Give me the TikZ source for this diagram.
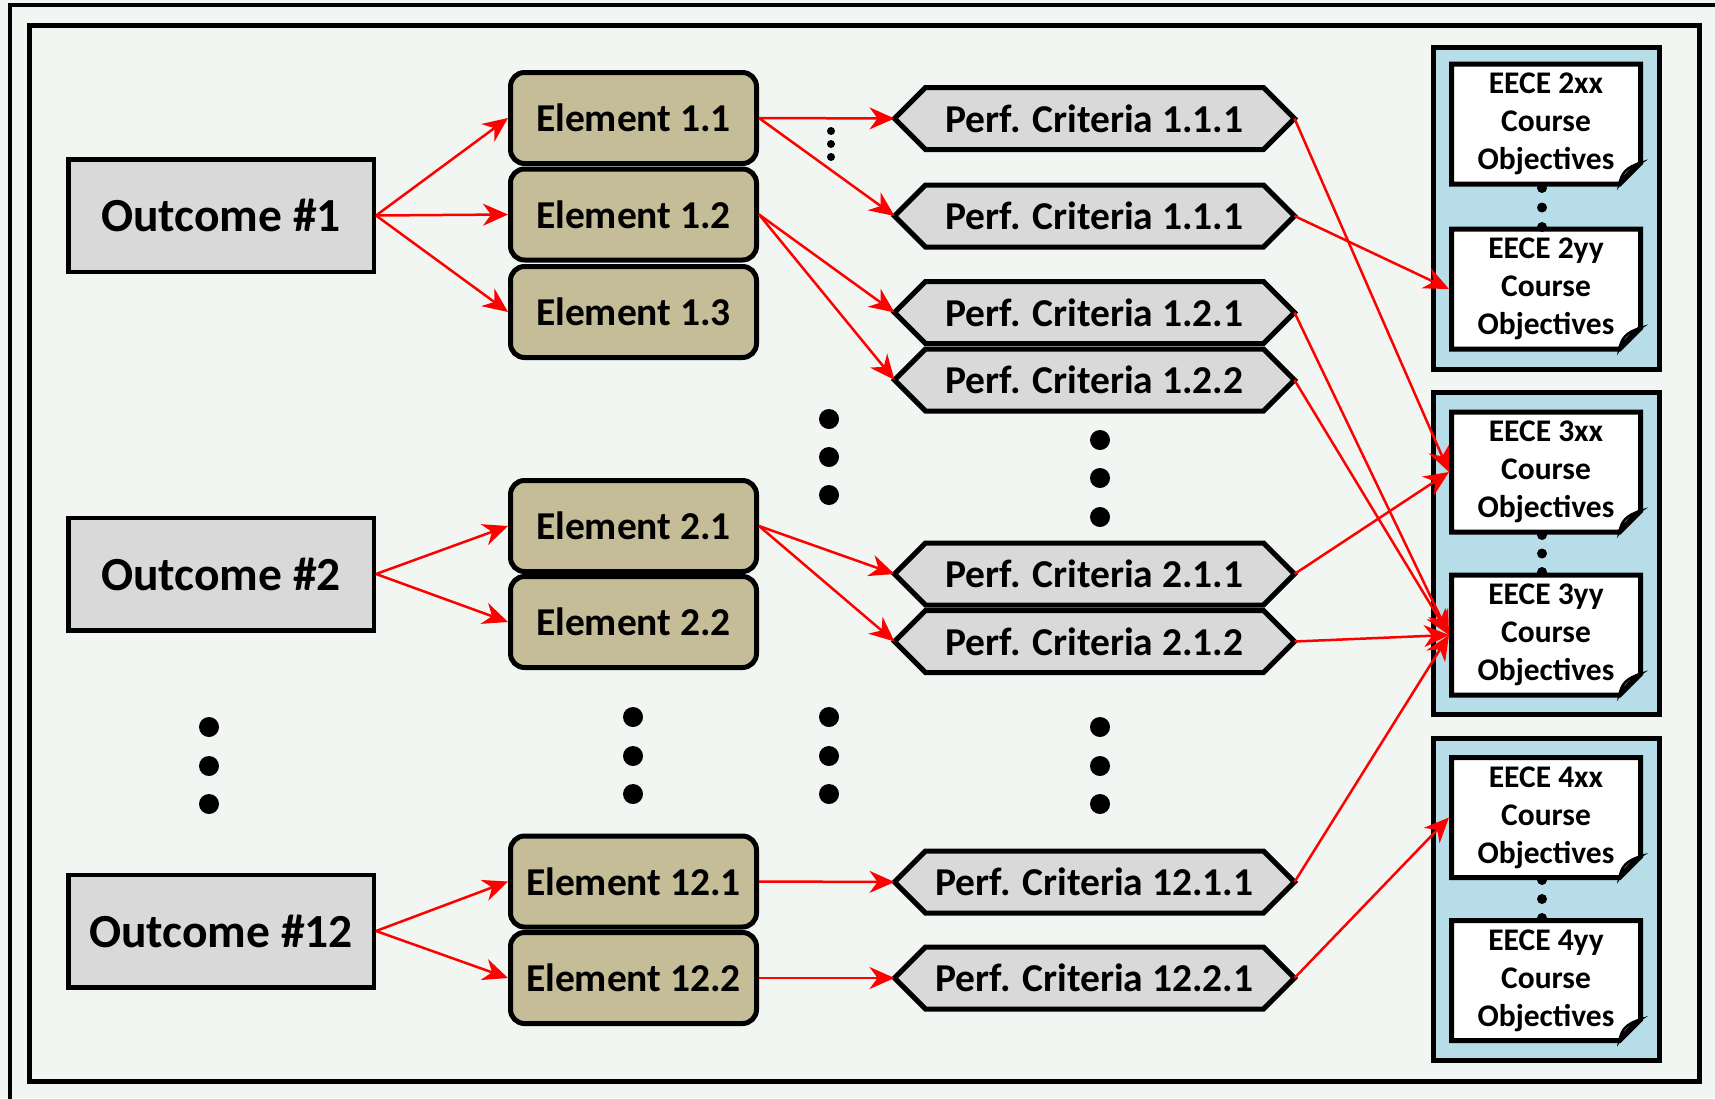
\documentclass[tikz,border=0pt]{standalone}
\usepackage{fontspec}
\setmainfont{Carlito}
\usetikzlibrary{arrows.meta}
\definecolor{bgc}{RGB}{242,246,242}
\definecolor{outc}{RGB}{217,217,217}
\definecolor{elc}{RGB}{196,189,151}
\definecolor{grpc}{RGB}{183,221,232}
\definecolor{arrc}{RGB}{255,0,0}
\newcommand\hexnode[4]{%
  \begin{scope}[shift={(#2,#3)}]
    \draw[hexline] (-200,0) -- (-169,-31) -- (169,-31) -- (200,0) -- (169,31) -- (-169,31) -- cycle;
  \end{scope}
  \node[hextext] (#1) at (#2,#3) {#4};}
\newcommand\docnode[4]{%
  \begin{scope}[shift={(#2,#3)}]
    \draw[docline] (-94.5,-60) -- (94.5,-60) -- (94.5,39) -- (73.5,60) -- (-94.5,60) -- cycle;
    \draw[line width=2.5pt, fill=gray!35] (73.5,60) .. controls (75,50) and (80,43) .. (94.5,39) .. controls (85,45) and (79,51) .. (73.5,60) -- cycle;
  \end{scope}
  \node[doctext] (#1) at (#2,#3) {#4};}
\begin{document}
\begin{tikzpicture}[x=1pt,y=-1pt,
  outbox/.style={draw, line width=4.5pt, fill=outc, minimum width=305.5pt, minimum height=112.5pt, inner sep=0pt, font=\fontsize{47.5}{50}\selectfont\bfseries},
  elbox/.style={draw, line width=5pt, fill=elc, rounded corners=14pt, minimum width=246pt, minimum height=91pt, inner sep=0pt, font=\fontsize{39.5}{42}\selectfont\bfseries},
  hexline/.style={draw, line width=5pt, fill=outc, line join=miter},
  hextext/.style={draw=none, minimum width=400pt, minimum height=62pt, inner sep=0pt, outer sep=0pt, font=\fontsize{39.5}{42}\selectfont\bfseries},
  docline/.style={draw, line width=5pt, fill=white, line join=miter},
  doctext/.style={draw=none, minimum width=189pt, minimum height=120pt, inner sep=0pt, outer sep=2.5pt, align=center, font=\fontsize{31.5}{38}\selectfont\bfseries},
  grpbox/.style={draw, line width=5pt, fill=grpc, minimum width=226pt, minimum height=322pt, inner sep=0pt},
  conn/.style={draw=arrc, line width=2.5pt, -{Stealth[length=25pt, width=22pt, inset=8pt]}},
]
\clip (0,0) rectangle (1715,1098);
\fill[bgc] (0,0) rectangle (1715,1098);
\draw[line width=4.5pt] (10,5) rectangle (1760,1140);
\draw[line width=5pt] (29,25) rectangle (1699,1081);

% course groups
\node[grpbox] (g2) at (1546.5,208.5) {};
\node[grpbox] (g3) at (1546.5,553) {};
\node[grpbox] (g4) at (1546.5,899) {};

\docnode{d2x}{1546}{124}{EECE 2xx\\Course\\Objectives}
\docnode{d2y}{1546}{289}{EECE 2yy\\Course\\Objectives}
\docnode{d3x}{1546}{472}{EECE 3xx\\Course\\Objectives}
\docnode{d3y}{1546}{635}{EECE 3yy\\Course\\Objectives}
\docnode{d4x}{1546}{817.5}{EECE 4xx\\Course\\Objectives}
\docnode{d4y}{1546}{980.5}{EECE 4yy\\Course\\Objectives}

\foreach \yy in {188,207.5,227,535,553.5,572,880,899,918}
  \fill (1542,\yy) circle (5);

% outcomes
\node[outbox] (o1) at (221,215.5) {Outcome \#1};
\node[outbox] (o2) at (221,574) {Outcome \#2};
\node[outbox] (o12) at (221,931) {Outcome \#12};

% elements
\node[elbox] (e11) at (633.5,118) {Element 1.1};
\node[elbox] (e12) at (633.5,214.5) {Element 1.2};
\node[elbox] (e13) at (633.5,312) {Element 1.3};
\node[elbox] (e21) at (633.5,526) {Element 2.1};
\node[elbox] (e22) at (633.5,622) {Element 2.2};
\node[elbox] (e121) at (633.5,881.5) {Element 12.1};
\node[elbox] (e122) at (633.5,978) {Element 12.2};

% performance criteria
\hexnode{pa}{1094.5}{118.5}{Perf. Criteria 1.1.1}
\hexnode{pb}{1094.5}{216}{Perf. Criteria 1.1.1}
\hexnode{p121}{1094.5}{312.5}{Perf. Criteria 1.2.1}
\hexnode{p122}{1094.5}{380}{Perf. Criteria 1.2.2}
\hexnode{p211}{1094.5}{574}{Perf. Criteria 2.1.1}
\hexnode{p212}{1094.5}{641.5}{Perf. Criteria 2.1.2}
\hexnode{p1211}{1094.5}{882}{Perf. Criteria 12.1.1}
\hexnode{p1221}{1094.5}{978}{Perf. Criteria 12.2.1}

% dots
\foreach \xx/\yy in {209/727,209/766,209/804,
  633/717,633/756,633/794,
  829/419,829/457,829/495,829/717,829/756,829/794,
  1100/440,1100/478,1100/517,1100/727,1100/766,1100/804}
  \fill (\xx,\yy) circle (10);
\foreach \yy in {131,144,157}
  \fill (831,\yy) circle (4);

% connectors
\foreach \a/\b in {o1/e11,o1/e12,o1/e13,o2/e21,o2/e22,o12/e121,o12/e122,
  e11/pa,e11/pb,e12/p121,e12/p122,e21/p211,e21/p212,e121/p1211,e122/p1221,
  pa/d3x,pb/d2y,p121/d3y,p122/d3y,p211/d3x,p212/d3y,p1211/d3y,p1221/d4x}
  \draw[conn] (\a.east) -- (\b.west);
\end{tikzpicture}
\end{document}
